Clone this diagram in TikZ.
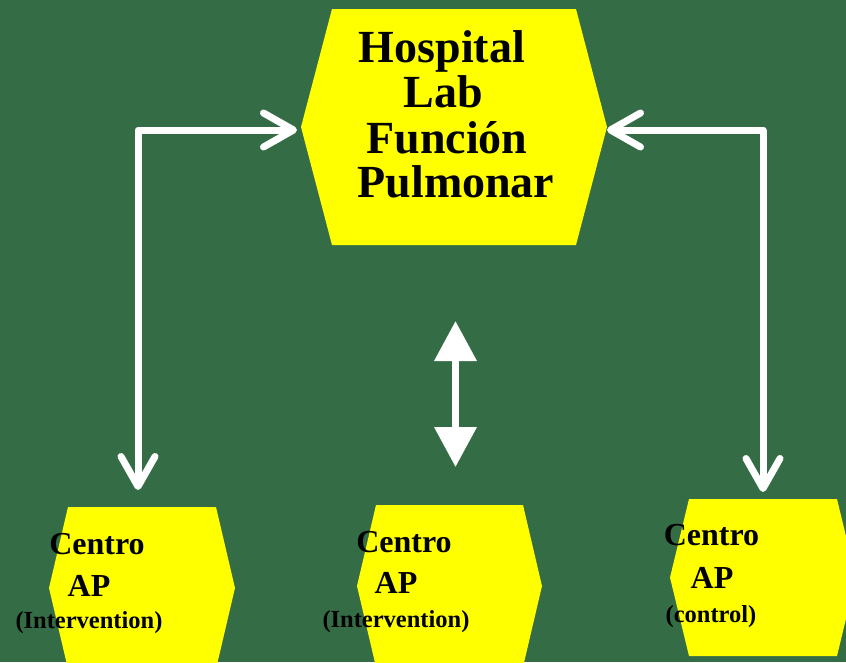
\documentclass[tikz,border=0pt]{standalone}
\usepackage{fontspec}
\setmainfont{Liberation Serif}
\usetikzlibrary{arrows.meta,calc}
\definecolor{bggreen}{RGB}{52,108,70}
\definecolor{hexyel}{RGB}{255,255,0}
\begin{document}
\begin{tikzpicture}[x=1pt,y=-1pt,
  hexnode/.style args={#1/#2/#3}{minimum width=#1pt, minimum height=#2pt, inner sep=0pt, outer sep=0pt,
    path picture={\fill[hexyel] ([xshift=#3pt]path picture bounding box.north west)
      -- ([xshift=-#3pt]path picture bounding box.north east)
      -- (path picture bounding box.east)
      -- ([xshift=-#3pt]path picture bounding box.south east)
      -- ([xshift=#3pt]path picture bounding box.south west)
      -- (path picture bounding box.west) -- cycle;}},
  bigtxt/.style={font=\fontsize{46}{45}\selectfont\bfseries, anchor=base, inner sep=0pt},
  midtxt/.style={font=\fontsize{32}{32}\selectfont\bfseries, anchor=base, inner sep=0pt},
  smltxt/.style={font=\fontsize{24.5}{25}\selectfont\bfseries, anchor=base, inner sep=0pt},
  conn/.style={draw=white, line width=7pt, line join=round,
    {Straight Barb[length=30pt,width=34pt,round]}-{Straight Barb[length=30pt,width=34pt,round]}},
  dblarrow/.style={draw=white, line width=7pt,
    {Triangle[length=40pt,width=41pt]}-{Triangle[length=40pt,width=41pt]}}
]
\useasboundingbox (0,0) rectangle (846,662);
\fill[bggreen] (0,0) rectangle (846,662);
\clip (0,0) rectangle (846,662);

% hexagons
\node[hexnode=306/236/31] (lab) at (454,127) {};
\node[hexnode=186/162/19] (cl) at (142,588) {};
\node[hexnode=185/162/19] (cm) at (449.5,586) {};
\node[hexnode=186/157/19] (cr) at (763,577.5) {};

% top text
\node[bigtxt] (t1) at (442,62) {Hospital};
\node[bigtxt] (t2) at (443,107) {Lab};
\node[bigtxt] (t3) at (447,153) {Función};
\node[bigtxt] (t4) at (456,197) {Pulmonar};

% bottom-left text
\node[midtxt] (l1) at (97,554) {Centro};
\node[midtxt] (l2) at (89,596) {AP};
\node[smltxt] (l3) at (89,628) {(Intervention)};

% bottom-middle text
\node[midtxt] (m1) at (404,552) {Centro};
\node[midtxt] (m2) at (396,593) {AP};
\node[smltxt] (m3) at (396,627) {(Intervention)};

% bottom-right text
\node[midtxt] (r1) at (711.5,545) {Centro};
\node[midtxt] (r2) at (712,588) {AP};
\node[smltxt] (r3) at (711,622) {(control)};

% connectors
\draw[conn] ([shift={(-4,3)}]lab.west) -| ([shift={(-4,-17)}]cl.north);
\draw[conn] ([shift={(0,3)}]lab.east) -| ([shift={(0,-7)}]cr.north);
\coordinate (ma) at (455.5,321);
\coordinate (mb) at (455.5,467);
\draw[dblarrow] (ma) -- (mb);
\end{tikzpicture}
\end{document}
